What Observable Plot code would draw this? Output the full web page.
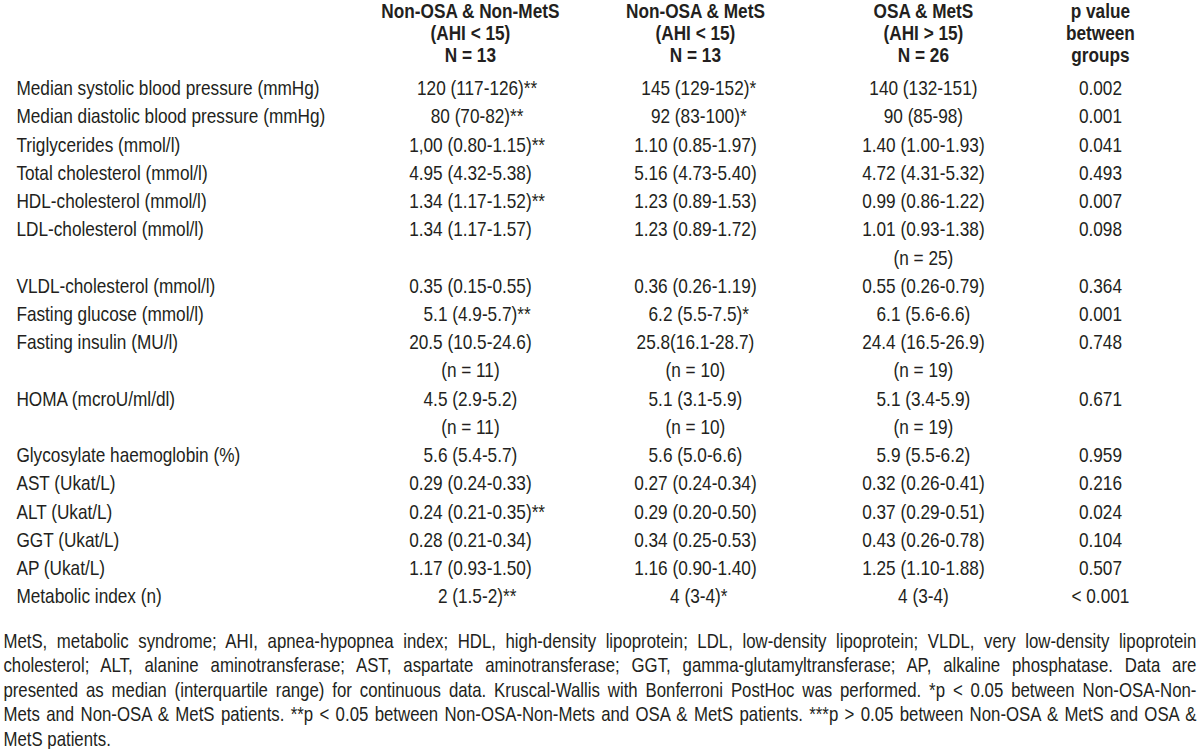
<!DOCTYPE html>
<html>
<head>
<meta charset="utf-8">
<script src="https://cdn.jsdelivr.net/npm/d3@7"></script>
<script src="https://cdn.jsdelivr.net/npm/@observablehq/plot@0.6"></script>
<style>
  html, body { margin: 0; padding: 0; background: #ffffff; }
  #chart { width: 1200px; height: 749px; overflow: hidden; }
</style>
</head>
<body>
<div id="chart"></div>
<script>
// ---------------- DATA ----------------
const columnHeaders = [
  "Non-OSA & Non-MetS\n(AHI < 15)\nN = 13",
  "Non-OSA & MetS\n(AHI < 15)\nN = 13",
  "OSA & MetS\n(AHI > 15)\nN = 26",
  "p value\nbetween\ngroups"
];
const parameters = [
  "Median systolic blood pressure (mmHg)",
  "Median diastolic blood pressure (mmHg)",
  "Triglycerides (mmol/l)",
  "Total cholesterol (mmol/l)",
  "HDL-cholesterol (mmol/l)",
  "LDL-cholesterol (mmol/l)",
  "VLDL-cholesterol (mmol/l)",
  "Fasting glucose (mmol/l)",
  "Fasting insulin (MU/l)",
  "HOMA (mcroU/ml/dl)",
  "Glycosylate haemoglobin (%)",
  "AST (Ukat/L)",
  "ALT (Ukat/L)",
  "GGT (Ukat/L)",
  "AP (Ukat/L)",
  "Metabolic index (n)"
];
const nonOsaNonMets = [
  "120 (117-126)**", "80 (70-82)**", "1,00 (0.80-1.15)**", "4.95 (4.32-5.38)",
  "1.34 (1.17-1.52)**", "1.34 (1.17-1.57)", "0.35 (0.15-0.55)", "5.1 (4.9-5.7)**",
  "20.5 (10.5-24.6)\n(n = 11)", "4.5 (2.9-5.2)\n(n = 11)", "5.6 (5.4-5.7)", "0.29 (0.24-0.33)",
  "0.24 (0.21-0.35)**", "0.28 (0.21-0.34)", "1.17 (0.93-1.50)", "2 (1.5-2)**"
];
const nonOsaMets = [
  "145 (129-152)*", "92 (83-100)*", "1.10 (0.85-1.97)", "5.16 (4.73-5.40)",
  "1.23 (0.89-1.53)", "1.23 (0.89-1.72)", "0.36 (0.26-1.19)", "6.2 (5.5-7.5)*",
  "25.8(16.1-28.7)\n(n = 10)", "5.1 (3.1-5.9)\n(n = 10)", "5.6 (5.0-6.6)", "0.27 (0.24-0.34)",
  "0.29 (0.20-0.50)", "0.34 (0.25-0.53)", "1.16 (0.90-1.40)", "4 (3-4)*"
];
const osaMets = [
  "140 (132-151)", "90 (85-98)", "1.40 (1.00-1.93)", "4.72 (4.31-5.32)",
  "0.99 (0.86-1.22)", "1.01 (0.93-1.38)\n(n = 25)", "0.55 (0.26-0.79)", "6.1 (5.6-6.6)",
  "24.4 (16.5-26.9)\n(n = 19)", "5.1 (3.4-5.9)\n(n = 19)", "5.9 (5.5-6.2)", "0.32 (0.26-0.41)",
  "0.37 (0.29-0.51)", "0.43 (0.26-0.78)", "1.25 (1.10-1.88)", "4 (3-4)"
];
const pValues = [
  "0.002", "0.001", "0.041", "0.493", "0.007", "0.098", "0.364", "0.001",
  "0.748", "0.671", "0.959", "0.216", "0.024", "0.104", "0.507", "< 0.001"
];
const footnoteLines = [
  "MetS, metabolic syndrome; AHI, apnea-hypopnea index; HDL, high-density lipoprotein; LDL, low-density lipoprotein; VLDL, very low-density lipoprotein",
  "cholesterol; ALT, alanine aminotransferase; AST, aspartate aminotransferase; GGT, gamma-glutamyltransferase; AP, alkaline phosphatase. Data are",
  "presented as median (interquartile range) for continuous data. Kruscal-Wallis with Bonferroni PostHoc was performed. *p < 0.05 between Non-OSA-Non-",
  "Mets and Non-OSA & MetS patients. **p < 0.05 between Non-OSA-Non-Mets and OSA & MetS patients. ***p > 0.05 between Non-OSA & MetS and OSA &",
  "MetS patients."
];

// ---------------- LAYOUT (not data) ----------------
const columns = ["label", "g1", "g2", "g3", "p"];
const colX = {label: 16, g1: 470, g2: 695, g3: 923, p: 1100, foot: 3};
const footRight = 1196;
const headerLines = [-2.72, -1.94, -1.16];     // in body-line units
const footStart = 19.58, footStep = 0.87;
const SX = 0.82;                                 // horizontal condensing (Arial Narrow look)
const fontSize = 21, footSize = 20.5;
const ink = "#231f20";
const starW = 0.389 * fontSize;                  // width of "*" before condensing

// ---------------- TABLE BUILD ----------------
const bodyCells = [];
let line = 0;
parameters.forEach((p, i) => {
  const row = {label: p, g1: nonOsaNonMets[i], g2: nonOsaMets[i], g3: osaMets[i], p: pValues[i]};
  let maxLines = 1;
  for (const col of columns) {
    const parts = row[col].split("\n");
    maxLines = Math.max(maxLines, parts.length);
    parts.forEach((t, j) => {
      const stars = (t.match(/\*+$/) || [""])[0].length;
      bodyCells.push({col, line: line + j, text: t, stars});
    });
  }
  line += maxLines;
});

const headerCells = [];
columnHeaders.forEach((h, i) => {
  h.split("\n").forEach((t, j) => headerCells.push({col: columns[i + 1], line: headerLines[j], text: t}));
});
const footCells = footnoteLines.map((t, j) => ({col: "foot", line: footStart + j * footStep, text: t}));

const xOf = d => colX[d.col];
const labels = bodyCells.filter(d => d.col === "label");
const values = bodyCells.filter(d => d.col !== "label");

const chart = Plot.plot({
  width: 1200,
  height: 749,
  margin: 0,
  x: {type: "linear", domain: [0, 1200], range: [0, 1200 / SX], axis: null},
  y: {type: "linear", domain: [0, 18], range: [88, 596], axis: null},
  style: {fontFamily: "'Liberation Sans', Arial, sans-serif", fontSize: fontSize + "px", color: ink, background: "#ffffff", overflow: "hidden"},
  marks: [
    Plot.text(headerCells, {x: xOf, y: "line", text: "text", textAnchor: "middle", fontWeight: "bold", fill: ink}),
    Plot.text(labels, {x: xOf, y: "line", text: "text", textAnchor: "start", fill: ink}),
    Plot.text(values.filter(d => d.stars === 0), {x: xOf, y: "line", text: "text", textAnchor: "middle", fill: ink}),
    Plot.text(values.filter(d => d.stars === 1), {x: xOf, y: "line", text: "text", textAnchor: "middle", dx: starW / 2, fill: ink}),
    Plot.text(values.filter(d => d.stars === 2), {x: xOf, y: "line", text: "text", textAnchor: "middle", dx: starW, fill: ink}),
    Plot.text(footCells, {x: xOf, y: "line", text: "text", textAnchor: "start", fontSize: footSize, fill: ink})
  ]
});
document.getElementById("chart").append(chart);

// condense all drawn content horizontally (positions were laid out in pre-condensed units)
const svgNS = "http://www.w3.org/2000/svg";
const wrap = document.createElementNS(svgNS, "g");
wrap.setAttribute("transform", `scale(${SX},1)`);
Array.from(chart.childNodes).filter(n => n.nodeName.toLowerCase() !== "style").forEach(n => wrap.appendChild(n));
chart.appendChild(wrap);

// justify the caption lines (all but the last) to the full width
const target = (footRight - colX.foot) / SX;
const justify = new Set(footnoteLines.slice(0, -1));
chart.querySelectorAll("text").forEach(el => {
  const t = el.textContent;
  if (!justify.has(t)) return;
  const natural = el.getComputedTextLength();
  const spaces = (t.match(/ /g) || []).length;
  if (natural <= target && spaces > 0) {
    el.setAttribute("word-spacing", ((target - natural) / spaces).toFixed(3));
    el.style.wordSpacing = ((target - natural) / spaces).toFixed(3) + "px";
  } else {
    el.setAttribute("textLength", target.toFixed(2));
    el.setAttribute("lengthAdjust", "spacingAndGlyphs");
  }
});
</script>
</body>
</html>
